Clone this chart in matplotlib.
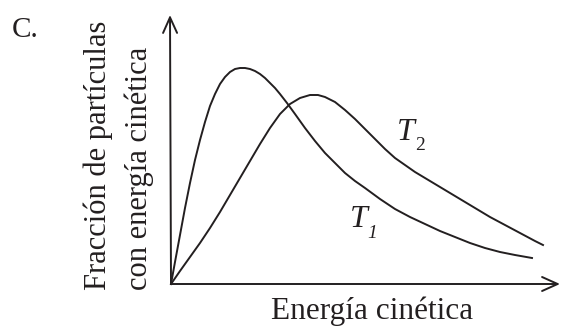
import matplotlib
matplotlib.use('Agg')
import matplotlib.pyplot as plt

# curve values (energy, fraction), arbitrary units
energia_t1 = [0, 4, 9, 14, 19, 24, 29, 34, 39, 44, 49, 54, 59, 64, 69, 74, 79, 84, 89, 94,
              99, 104, 109, 116, 124, 134, 144, 154, 164, 174, 184, 194, 209, 224, 239, 254,
              269, 284, 299, 314, 329, 344, 361]
fraccion_t1 = [0, 22, 49, 76, 101, 124, 144, 162, 178, 190, 200, 207, 212, 215, 216, 216, 215,
               213, 210, 206, 201, 196, 190, 181, 170, 156, 143, 131, 121, 111, 103, 96, 85, 75,
               67, 60, 53, 47, 41, 36, 32, 29, 26]

energia_t2 = [0, 9, 19, 29, 39, 49, 59, 69, 79, 89, 99, 109, 119, 129, 139, 147, 154, 164, 174,
              184, 194, 204, 214, 224, 234, 244, 259, 274, 289, 304, 319, 334, 349, 364, 372]
fraccion_t2 = [0, 13, 27, 41, 56, 72, 89, 106, 123, 140, 156, 170, 180, 186, 189, 189, 187, 182,
               174, 165, 155, 145, 135, 126, 119, 112, 103, 94, 85, 76, 67, 59, 51, 43, 39]

ylabel_lines = ['Fracción de partículas', 'con energía cinética']
xlabel = 'Energía cinética'

ink = '#231f20'
serif = ['Liberation Serif', 'DejaVu Serif']

fig = plt.figure(figsize=(5.61, 3.27), dpi=100, facecolor='white')
ax = fig.add_axes([0, 0, 1, 1])
ax.set_xlim(-171, 390)
ax.set_ylim(-43, 284)
ax.axis('off')

ax.plot(energia_t1, fraccion_t1, color=ink, lw=1.4, solid_joinstyle='round')
ax.plot(energia_t2, fraccion_t2, color=ink, lw=1.4, solid_joinstyle='round')

# axes with open arrow heads
arrow = dict(arrowstyle='->,head_length=0.8,head_width=0.36', lw=1.4, color=ink,
             shrinkA=0, shrinkB=0, mutation_scale=14)
ax.annotate('', xy=(-1, 269), xytext=(0, 0), arrowprops=arrow)
ax.annotate('', xy=(389, 0), xytext=(0, 0), arrowprops=arrow)

ax.text(-159, 247, 'C.', family=serif, fontsize=21, color=ink)

for xpos, line in zip([-65, -24], ylabel_lines):
    ax.text(xpos, -6, line, family=serif, fontsize=22, color=ink, rotation=90,
            rotation_mode='anchor', ha='left', va='baseline')

ax.text(201, -35, xlabel, family=serif, fontsize=22.5, color=ink, ha='center', va='baseline')

ax.text(179, 57, 'T', family=serif, style='italic', fontsize=23, color=ink)
ax.text(196, 46, '1', family=serif, style='italic', fontsize=14, color=ink)
ax.text(226, 144, 'T', family=serif, style='italic', fontsize=23, color=ink)
ax.text(244, 134, '2', family=serif, fontsize=14, color=ink)

fig.savefig('out.png', dpi=100, facecolor='white')
